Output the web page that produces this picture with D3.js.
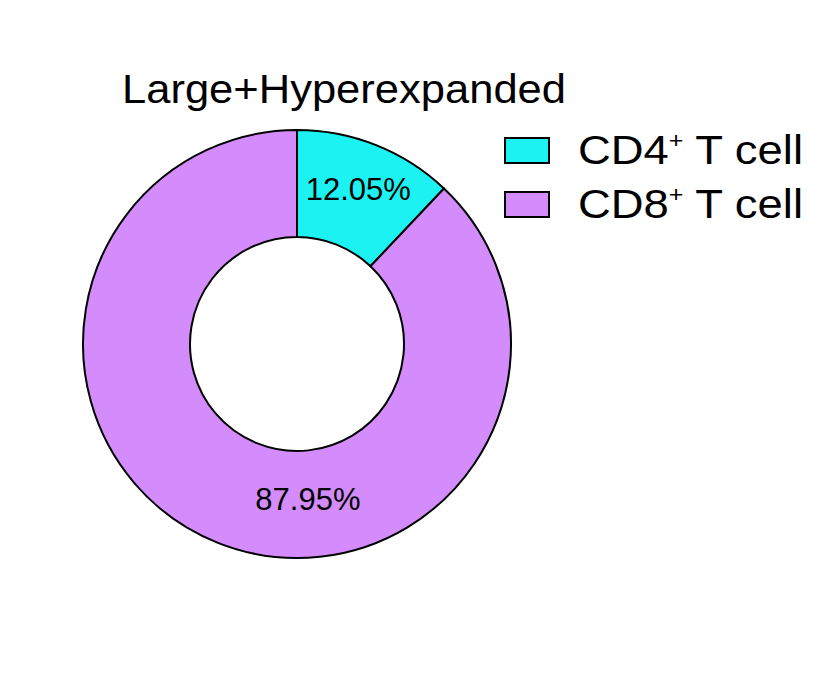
<!DOCTYPE html>
<html><head><meta charset="utf-8">
<script src="https://cdn.jsdelivr.net/npm/d3@7"></script>
<style>body{margin:0;background:#fff}text{font-family:Arial,"Liberation Sans",sans-serif}</style>
</head><body><svg id="c" width="821" height="688"></svg>
<script>
const categories = ["CD4", "CD8"];
const values = [12.05, 87.95];
const labels = ["12.05%", "87.95%"];
const colors = ["#1CF2F2", "#D48BFB"];
const title = "Large+Hyperexpanded";

const svg = d3.select("#c");
const cx = 297, cy = 344, R = 214, r = 107;
const g = svg.append("g").attr("transform", `translate(${cx},${cy})`);
const pie = d3.pie().sort(null).value(d => d)(values);
const arc = d3.arc().innerRadius(r).outerRadius(R);
g.selectAll("path").data(pie).join("path")
  .attr("d", arc).attr("fill", (d, i) => colors[i])
  .attr("stroke", "#000").attr("stroke-width", 2);
const lr = [166, 156];
pie.forEach((d, i) => {
  const a = i === 0 ? (d.startAngle + d.endAngle) / 2 : Math.PI - 0.07;
  g.append("text").attr("x", lr[i] * Math.sin(a)).attr("y", -lr[i] * Math.cos(a))
    .attr("text-anchor", "middle").attr("dominant-baseline", "central")
    .attr("font-size", 31).text(labels[i]);
});
svg.append("text").attr("x", 344).attr("y", 103).attr("text-anchor", "middle")
  .attr("font-size", 40).attr("textLength", 444).attr("lengthAdjust", "spacingAndGlyphs").text(title);
const lg = svg.append("g");
categories.forEach((c, i) => {
  const y = 150 + i * 54;
  lg.append("rect").attr("x", 505).attr("y", y - 12).attr("width", 44).attr("height", 25)
    .attr("fill", colors[i]).attr("stroke", "#000").attr("stroke-width", 2);
  const t = lg.append("text").attr("x", 578).attr("y", y + 14).attr("font-size", 40)
    .attr("textLength", 225).attr("lengthAdjust", "spacingAndGlyphs");
  t.append("tspan").text(c);
  t.append("tspan").attr("font-size", 22).attr("dy", -16).text("+");
  t.append("tspan").attr("dy", 16).text(" T cell");
});
</script></body></html>
